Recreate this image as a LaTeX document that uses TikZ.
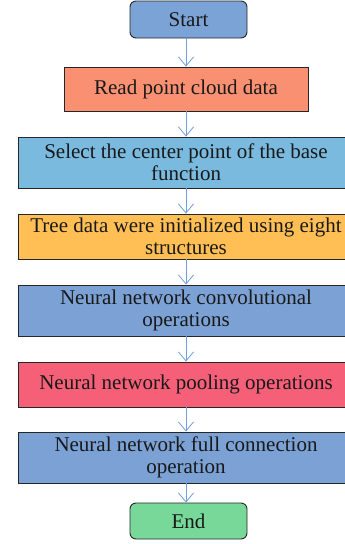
\documentclass[tikz,border=0pt]{standalone}
\usepackage{fontspec}
\setmainfont{Liberation Serif}
\usetikzlibrary{arrows.meta}
\definecolor{cstart}{RGB}{123,163,214}
\definecolor{cread}{RGB}{249,144,114}
\definecolor{cselect}{RGB}{121,186,222}
\definecolor{ctree}{RGB}{255,191,85}
\definecolor{cconv}{RGB}{123,161,213}
\definecolor{cpool}{RGB}{245,96,120}
\definecolor{cend}{RGB}{119,216,154}
\definecolor{carrow}{RGB}{111,159,224}
\tikzset{
  box/.style={draw=black!85, line width=0.9pt, inner sep=0pt, align=center,
    font=\fontsize{21}{22}\selectfont, text=black!90},
  term/.style={box, rounded corners=6pt, minimum width=117pt},
  arr/.style={draw=carrow, line width=0.8pt, -{Straight Barb[length=9pt,width=15pt,line width=0.8pt]}}
}
\begin{document}
\begin{tikzpicture}[x=1pt,y=1pt]
\useasboundingbox (0,0) rectangle (345,-544);
\clip (0,0) rectangle (345,-544);
\node[term, fill=cstart, minimum height=37pt] (start) at (188.5,-19.5) {Start};
\node[box, fill=cread, minimum width=244pt, minimum height=44pt] (read) at (186,-89) {Read point cloud data};
\node[box, fill=cselect, minimum width=336pt, minimum height=51pt] (select) at (186,-162.5) {Select the center point of the base\\function};
\node[box, fill=ctree, minimum width=336pt, minimum height=45pt] (tree) at (186,-236.5) {Tree data were initialized using eight\\structures};
\node[box, fill=cconv, minimum width=336pt, minimum height=51pt] (conv) at (186,-310.5) {Neural network convolutional\\operations};
\node[box, fill=cpool, minimum width=336pt, minimum height=45pt] (pool) at (186,-384.5) {Neural network pooling operations};
\node[box, fill=cconv, minimum width=336pt, minimum height=51pt] (full) at (186,-457.5) {Neural network full connection\\operation};
\node[term, fill=cend, minimum height=36pt] (end) at (188.5,-521) {End};
\draw[arr] (start.south -| read.north) -- (read.north);
\draw[arr] (read.south) -- (select.north);
\draw[arr] (select.south) -- (tree.north);
\draw[arr] (tree.south) -- (conv.north);
\draw[arr] (conv.south) -- (pool.north);
\draw[arr] (pool.south) -- (full.north);
\draw[arr] (full.south) -- (end.north -| full.south);
\end{tikzpicture}
\end{document}
